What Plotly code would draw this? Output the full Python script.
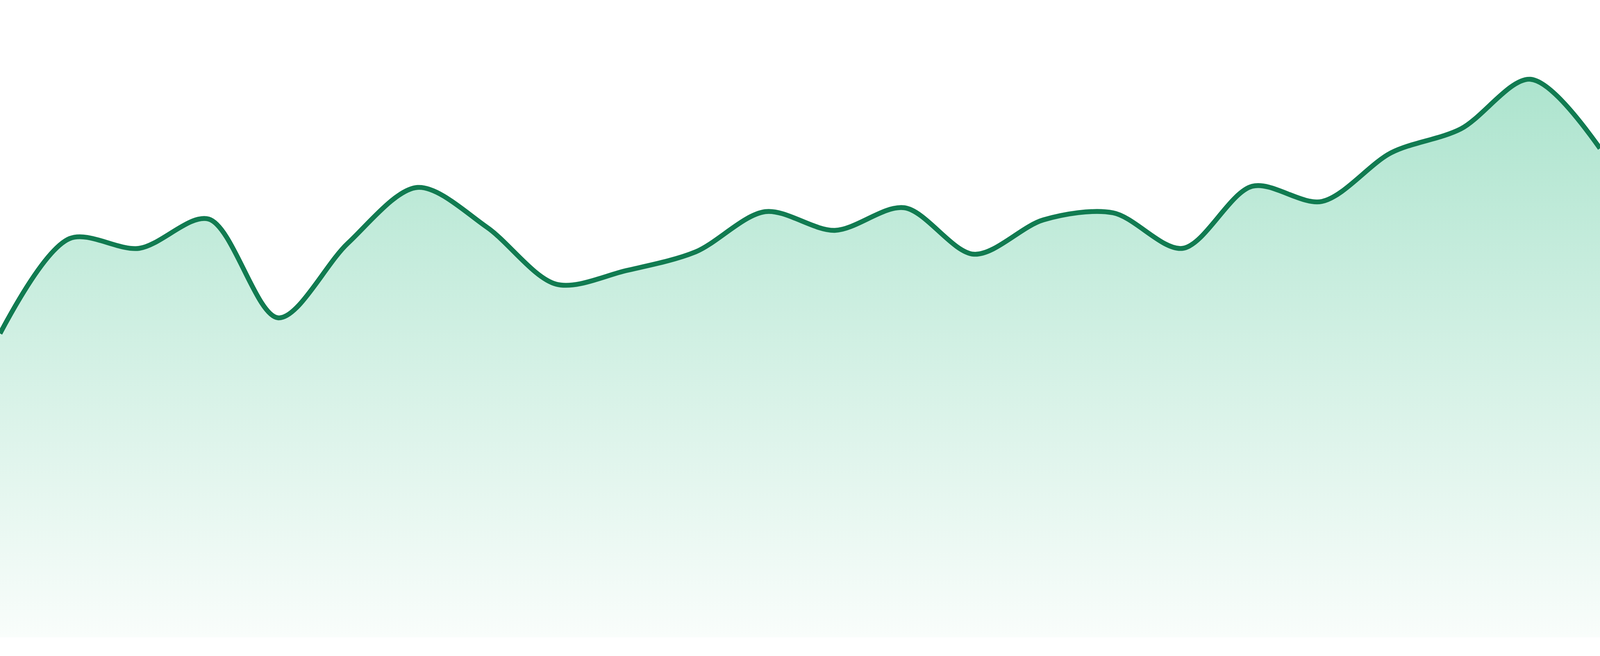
import plotly.graph_objects as go

# Sparkline values (arbitrary units), one per period
periods = list(range(24))
values = [77.8, 102.1, 99.6, 107.1, 81.8, 100.9, 115.2, 105.0, 90.4, 93.9,
          98.7, 109.0, 104.2, 110.0, 98.1, 106.9, 108.7, 99.6, 115.5, 111.6,
          124.1, 130.2, 142.9, 125.2]

line_color = "#117b51"
fill_top = "rgb(173,228,206)"
fill_bottom = "rgb(249,253,251)"
LINE_W = 14.5  # in pixels of a 4800-px-wide canvas

fig = go.Figure()
fig.add_trace(go.Scatter(
    x=periods,
    y=values,
    mode="lines",
    line=dict(color=line_color, width=LINE_W, shape="spline", smoothing=0.9),
    fill="tozeroy",
    fillgradient=dict(
        type="vertical",
        colorscale=[[0, fill_bottom], [1, fill_top]],
        start=0,
        stop=max(values),
    ),
    hoverinfo="skip",
    showlegend=False,
))

fig.update_layout(
    autosize=True,
    margin=dict(l=0, r=0, t=0, b=0, pad=0),
    paper_bgcolor="white",
    plot_bgcolor="white",
    xaxis=dict(visible=False, range=[0, 23], fixedrange=True),
    yaxis=dict(visible=False, range=[0, 163.2], fixedrange=True,
               domain=[48 / 1680, 1]),
    showlegend=False,
)

post = (
    "document.documentElement.style.margin='0';"
    "document.documentElement.style.overflow='hidden';"
    "document.body.style.margin='0';"
    "document.body.style.overflow='hidden';"
    "var gd=document.getElementById('{plot_id}');"
    "gd.style.width='100vw';gd.style.height='100vh';"
    "Plotly.Plots.resize(gd);"
    "var s=(window.innerWidth||4800)/4800;"
    "Plotly.restyle(gd,{'line.width':%s*s});" % LINE_W
)

fig.write_html(
    "out.html",
    default_width="100vw",
    default_height="100vh",
    config={"responsive": True, "displayModeBar": False},
    post_script=post,
)
